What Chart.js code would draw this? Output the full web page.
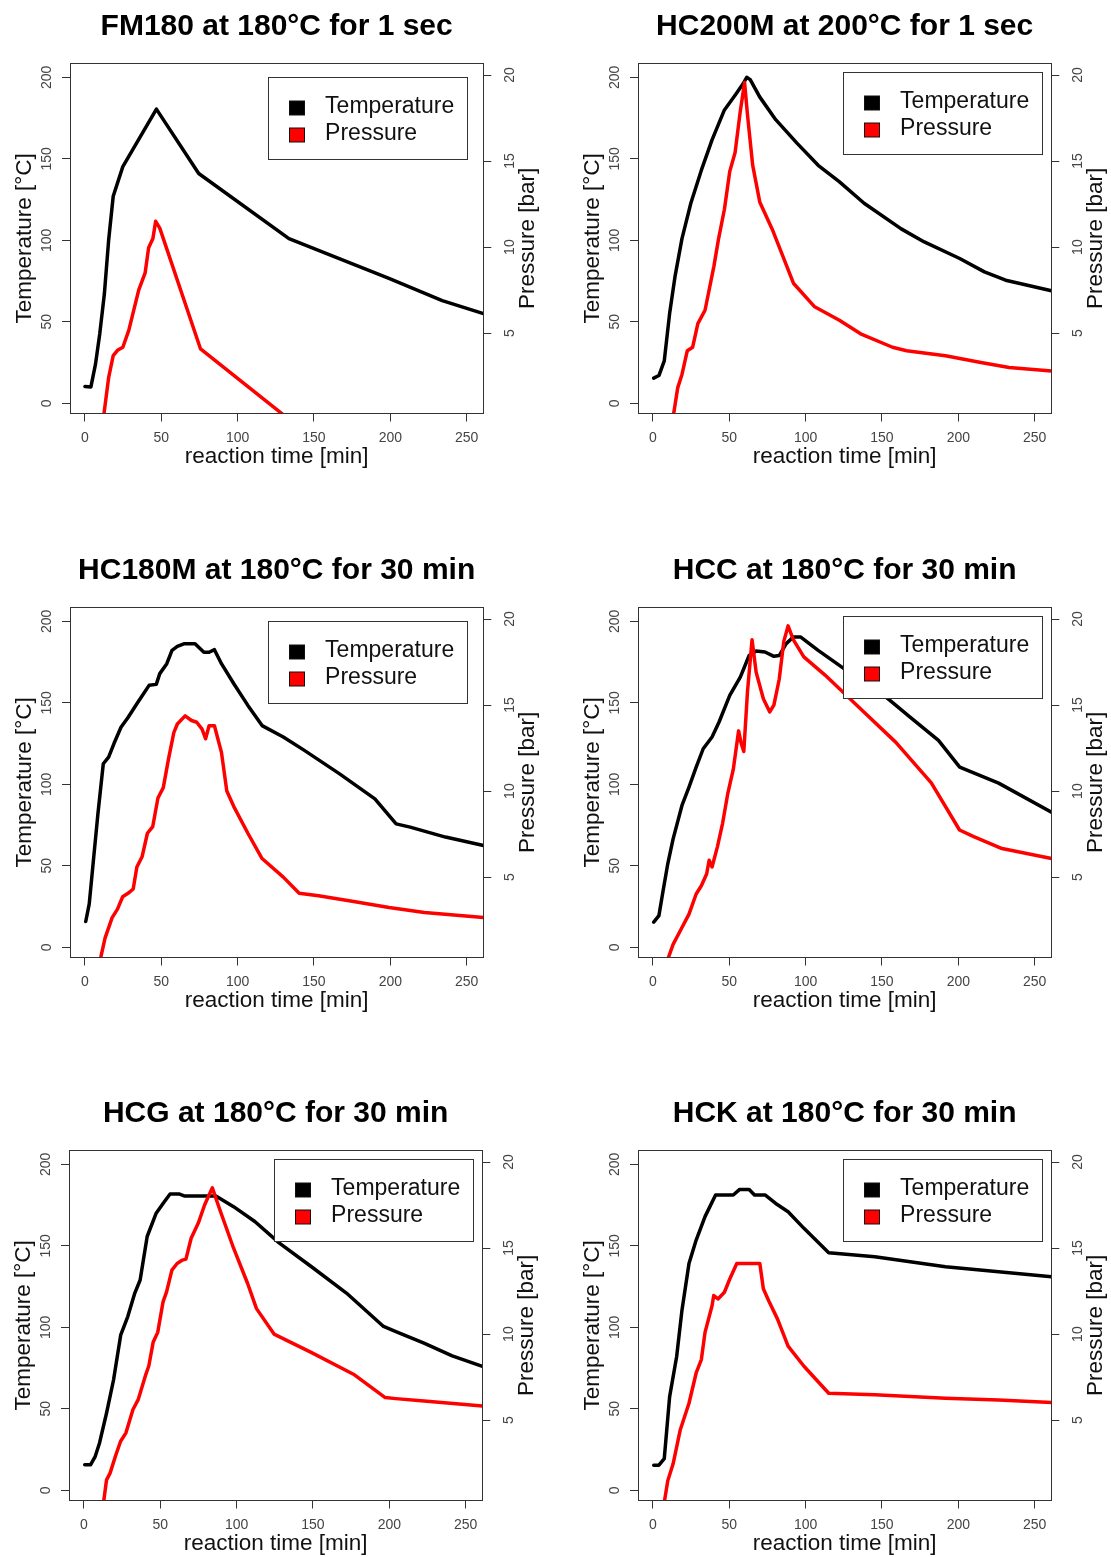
<!DOCTYPE html>
<html lang="en">
<head>
<meta charset="utf-8">
<title>Temperature and pressure profiles</title>
<script src="https://cdn.jsdelivr.net/npm/chart.js@4.4.1/dist/chart.umd.min.js"></script>
<style>
  html, body { margin: 0; padding: 0; background: #fff; }
  body { width: 1111px; height: 1557px; position: relative; overflow: hidden; }
  .panel { position: absolute; width: 540px; height: 480px; }
</style>
</head>
<body>
<script>
// Fuente base para todos los textos
const FUENTE = '"Liberation Sans", Arial, Helvetica, sans-serif';
Chart.defaults.font.family = FUENTE;

// Marcas de los ejes
const xTicks = [0, 50, 100, 150, 200, 250];
const tempTicks = [0, 50, 100, 150, 200];
const presTicks = [5, 10, 15, 20];

// Nombres de las series (leyenda)
const seriesLabels = ['Temperature', 'Pressure'];

// FM180 at 180°C for 1 sec
const fm180TimeT = [0, 3.9, 6.9, 9.7, 12.7, 15.5, 18.5, 24.8, 46.8, 74.5, 133.6, 199.5, 234, 261];
const fm180Temp = [10.3, 10, 24, 42.7, 67, 100, 127, 145.2, 180.5, 141, 101, 76.5, 63, 55];
const fm180TimeP = [12, 15.5, 18.5, 21.3, 24.8, 28.7, 35.2, 39.4, 41.7, 44.5, 46.3, 49, 75.7, 130, 133];
const fm180Pres = [0, 2.41, 3.69, 4.0, 4.18, 5.16, 7.5, 8.5, 9.96, 10.5, 11.5, 11.1, 4.08, 0.25, 0.04];

// HC200M at 200°C for 1 sec
const hc200mTimeT = [0.5, 3.9, 7.4, 10.9, 14.4, 19, 24.8, 31.7, 38.7, 46.8, 53.8, 59, 61.4, 63.7, 69.9, 80.4, 94.3, 108.2, 122, 138.3, 162.6, 177.7, 200.9, 217.1, 231, 261];
const hc200mTemp = [15.4, 17, 26, 55, 77.5, 101, 122.7, 143, 161.6, 180, 189, 196, 200, 198.6, 188, 174, 159.6, 146, 136, 122.7, 107, 99, 88.8, 80.6, 75.5, 69];
const hc200mTimeP = [13, 16.2, 19, 22.5, 26, 29.4, 34.1, 39.9, 42.9, 46.8, 50.3, 53.8, 57.2, 60, 61.9, 65.3, 70, 78.1, 92, 105.9, 122.1, 136, 156.9, 166.1, 191.6, 214.8, 233.3, 261];
const hc200mPres = [0, 1.82, 2.6, 3.98, 4.18, 5.55, 6.33, 8.88, 10.45, 12.2, 14.4, 15.5, 17.9, 19.57, 17.7, 14.76, 12.6, 11.04, 7.9, 6.53, 5.75, 4.96, 4.18, 3.98, 3.69, 3.29, 3.0, 2.8];

// HC180M at 180°C for 30 min
const hc180mTimeT = [0.5, 2.8, 5.5, 8.5, 12, 15.5, 19, 23.6, 28.2, 34, 42, 46.7, 49, 53.6, 57, 60.5, 65.2, 72.1, 77.9, 81.3, 84.8, 89.4, 97.5, 106.7, 116, 129.9, 143.7, 166.8, 189.9, 203.8, 213, 236.1, 261];
const hc180mTemp = [15.8, 26.6, 53, 82, 112.6, 116.7, 125, 135, 141, 149.4, 160.7, 161.3, 167.9, 174, 182.2, 184.6, 186.3, 186.3, 181, 181, 182.6, 174, 161.7, 148.4, 136, 129, 120.8, 106.4, 91, 75.7, 73.7, 67.6, 62.4];
const hc180mTimeP = [9.5, 13.2, 17.8, 21.3, 24.7, 28.2, 31.6, 34, 37.4, 40.9, 44.4, 47.8, 51.3, 54.7, 58.2, 60.5, 65.6, 69.8, 73.2, 76.7, 79, 81.3, 84.8, 89.4, 92.9, 97.5, 106.7, 116, 129.9, 140.3, 153, 176, 199.2, 222.3, 261];
const hc180mPres = [0, 1.47, 2.65, 3.14, 3.86, 4.06, 4.31, 5.59, 6.18, 7.55, 7.94, 9.6, 10.2, 11.86, 13.4, 13.9, 14.37, 14.1, 14.0, 13.6, 13.04, 13.8, 13.8, 12.25, 10.0, 9.1, 7.55, 6.08, 5.0, 4.06, 3.92, 3.59, 3.24, 2.94, 2.65];

// HCC at 180°C for 30 min
const hccTimeT = [0.5, 3.9, 6.3, 9.7, 13.2, 19, 23.6, 28.3, 32.9, 38.7, 43.3, 50.3, 57.2, 63, 67.6, 73.4, 79.2, 82.7, 87.3, 91.9, 96.6, 108.2, 122.1, 136, 149.9, 168.4, 187, 200.9, 226.4, 261];
const hccTemp = [15.4, 19.4, 32.8, 51.2, 66.5, 87, 98.3, 110.5, 121.8, 129, 138.2, 154.5, 165.8, 179, 181.8, 181.2, 178.5, 179, 186.3, 190.4, 190.4, 182.2, 173, 163.8, 155.6, 141.2, 126.9, 110.5, 100.7, 82.9];
const hccTimeP = [8.8, 13.2, 17.8, 23.6, 28.3, 31.7, 35.2, 36.8, 38.7, 42.2, 45.6, 49.1, 52.6, 56.1, 57.7, 59.5, 61.9, 64.9, 67.6, 72.3, 76.5, 79.2, 82.7, 85.7, 88.5, 91.9, 98.8, 112.7, 135.9, 159.1, 182.3, 200.8, 210.1, 228.6, 261];
const hccPres = [0, 1.09, 1.87, 2.85, 4.02, 4.5, 5.2, 5.98, 5.59, 6.76, 8.13, 9.9, 11.26, 13.5, 12.8, 12.3, 15.76, 18.8, 16.9, 15.37, 14.6, 15.0, 16.5, 18.7, 19.6, 18.8, 17.8, 16.74, 14.78, 12.83, 10.48, 7.74, 7.35, 6.66, 6.08];

// HCG at 180°C for 30 min
const hcgTimeT = [0.5, 4.4, 7.4, 10.2, 14.8, 19.4, 24.1, 28.7, 33.3, 36.8, 41.4, 47.3, 51.8, 56.4, 62.2, 65.6, 86.4, 98, 111.9, 128, 148.8, 171.9, 196.2, 204.3, 222.7, 241.2, 261];
const hcgTemp = [15.7, 15.7, 20.8, 29, 47.4, 67.8, 95.4, 106.6, 121, 129, 155.7, 170, 176, 181.8, 181.8, 180.6, 180.6, 174, 164.9, 151.6, 137.3, 121, 100.5, 97.4, 90.3, 82.5, 76];
const hcgTimeP = [12.5, 14.8, 17.1, 20.6, 24.0, 27.5, 32.1, 35.6, 40.2, 42.5, 45.3, 48.3, 51.8, 54.1, 57.6, 61, 64.5, 66.8, 70.2, 74.9, 79, 84.1, 88.7, 98, 107.2, 113, 124.5, 148.8, 176.5, 197.3, 204.3, 222.7, 261];
const hcgPres = [0, 1.53, 1.92, 2.9, 3.77, 4.26, 5.62, 6.21, 7.57, 8.16, 9.52, 10.1, 11.87, 12.45, 13.72, 14.1, 14.3, 14.36, 15.57, 16.45, 17.5, 18.5, 17.3, 14.99, 12.94, 11.48, 10.0, 8.94, 7.67, 6.31, 6.25, 6.11, 5.82];

// HCK at 180°C for 30 min
const hckTimeT = [0.5, 3.9, 7.4, 10.9, 15.5, 19, 23.6, 28.3, 34.1, 41, 52.6, 56.8, 63, 66.5, 73.4, 80.4, 88.5, 98.9, 115.1, 145.3, 191.6, 226.4, 261];
const hckTemp = [15.4, 15.4, 19.4, 57.3, 81.9, 110.5, 139.2, 153.5, 167.9, 181.2, 181.2, 184.6, 184.6, 181.2, 181.2, 176, 170.9, 160.7, 145.8, 143.3, 137.2, 134.1, 131];
const hckTimeP = [7, 9.7, 13.2, 17.8, 23.6, 28.3, 31.7, 34.1, 38.7, 39.8, 42.6, 46.8, 50.3, 54.9, 70, 72.3, 75.8, 81.6, 88.5, 98.9, 115.1, 145.3, 191.6, 226.4, 261];
const hckPres = [0, 1.48, 2.46, 4.41, 5.98, 7.74, 8.52, 10.1, 11.65, 12.24, 12.04, 12.43, 13.2, 14.1, 14.1, 12.63, 11.94, 10.87, 9.3, 8.13, 6.56, 6.47, 6.27, 6.17, 6.02];

// Paneles: titulo, series y posicion en la pagina
const paneles = [
  { titulo: 'FM180 at 180°C for 1 sec', tT: fm180TimeT, temp: fm180Temp, tP: fm180TimeP, pres: fm180Pres, left: 0, top: 0, ley: { right: 16.3, top: 14 } },
  { titulo: 'HC200M at 200°C for 1 sec', tT: hc200mTimeT, temp: hc200mTemp, tP: hc200mTimeP, pres: hc200mPres, left: 568.3, top: 0, ley: { right: 9, top: 8.4 } },
  { titulo: 'HC180M at 180°C for 30 min', tT: hc180mTimeT, temp: hc180mTemp, tP: hc180mTimeP, pres: hc180mPres, left: 0, top: 543.5, ley: { right: 16.3, top: 14 } },
  { titulo: 'HCC at 180°C for 30 min', tT: hccTimeT, temp: hccTemp, tP: hccTimeP, pres: hccPres, left: 568.3, top: 543.5, ley: { right: 9, top: 8.4 } },
  { titulo: 'HCG at 180°C for 30 min', tT: hcgTimeT, temp: hcgTemp, tP: hcgTimeP, pres: hcgPres, left: -1.5, top: 1087, ley: { right: 9, top: 8.4 } },
  { titulo: 'HCK at 180°C for 30 min', tT: hckTimeT, temp: hckTemp, tP: hckTimeP, pres: hckPres, left: 568.3, top: 1087, ley: { right: 9, top: 8.4 } }
];

// Une tiempos y valores en puntos {x, y}
const puntos = (xs, ys) => xs.map((t, i) => ({ x: t, y: ys[i] }));

// Marco alrededor del area de trazado
const marco = {
  id: 'marco',
  afterDatasetsDraw(chart) {
    const { ctx, chartArea: a } = chart;
    ctx.save();
    ctx.strokeStyle = '#333';
    ctx.lineWidth = 1;
    ctx.strokeRect(Math.round(a.left) + 0.5, Math.round(a.top) + 0.5, Math.round(a.right - a.left), Math.round(a.bottom - a.top));
    ctx.restore();
  }
};

// Leyenda con caja (fondo blanco, borde y cuadrados de color)
const leyendaCaja = {
  id: 'leyendaCaja',
  afterDatasetsDraw(chart, args, opts) {
    const { ctx, chartArea: a } = chart;
    const w = 199, h = 82;
    const x = Math.round(a.right - opts.right - w) + 0.5;
    const y = Math.round(a.top + opts.top) + 0.5;
    ctx.save();
    ctx.fillStyle = '#fff';
    ctx.fillRect(x, y, w, h);
    ctx.strokeStyle = '#333';
    ctx.lineWidth = 1;
    ctx.strokeRect(x, y, w, h);
    ctx.font = '23px ' + FUENTE;
    ctx.textBaseline = 'middle';
    chart.data.datasets.forEach((ds, i) => {
      const cy = y + 30.5 + i * 27;
      ctx.fillStyle = ds.borderColor;
      ctx.fillRect(x + 21, cy - 7, 15, 14);
      ctx.strokeStyle = '#111';
      ctx.strokeRect(x + 21, cy - 7, 15, 14);
      ctx.fillStyle = '#111';
      ctx.fillText(ds.label, x + 56.6, cy - 1.5);
    });
    ctx.restore();
  }
};

// Titulo del eje derecho, leido de abajo hacia arriba
const tituloDerecho = {
  id: 'tituloDerecho',
  afterDraw(chart, args, opts) {
    const { ctx, chartArea: a } = chart;
    ctx.save();
    ctx.translate(a.right + 44.5, (a.top + a.bottom) / 2);
    ctx.rotate(-Math.PI / 2);
    ctx.font = '22.5px ' + FUENTE;
    ctx.fillStyle = '#111';
    ctx.textAlign = 'center';
    ctx.textBaseline = 'middle';
    ctx.fillText(opts.text, 0, 0);
    ctx.restore();
  }
};

// Estilo comun de las marcas de eje
const marcas = { display: true, drawOnChartArea: false, drawTicks: true, tickLength: 8, color: '#333', lineWidth: 1 };

paneles.forEach((p, n) => {
  const div = document.createElement('div');
  div.className = 'panel';
  div.style.left = p.left + 'px';
  div.style.top = p.top + 'px';
  const canvas = document.createElement('canvas');
  canvas.width = 540;
  canvas.height = 480;
  canvas.id = 'grafico' + n;
  div.appendChild(canvas);
  document.body.appendChild(div);

  new Chart(canvas, {
    type: 'line',
    data: {
      datasets: [
        { label: seriesLabels[0], data: puntos(p.tT, p.temp), yAxisID: 'y', borderColor: '#000', backgroundColor: '#000', order: 1 },
        { label: seriesLabels[1], data: puntos(p.tP, p.pres), yAxisID: 'y1', borderColor: '#f00', backgroundColor: '#f00', order: 0 }
      ]
    },
    options: {
      responsive: false,
      animation: false,
      events: [],
      elements: {
        point: { radius: 0 },
        line: { borderWidth: 3.5, tension: 0, borderJoinStyle: 'round', borderCapStyle: 'round', fill: false }
      },
      layout: { padding: 0 },
      plugins: {
        legend: { display: false },
        tooltip: { enabled: false },
        title: {
          display: true, text: p.titulo, fullSize: false, color: '#000',
          font: { size: 30, weight: 'bold', lineHeight: 1.2 },
          padding: { top: 8.5, bottom: 18.8 }
        },
        leyendaCaja: p.ley,
        tituloDerecho: { text: 'Pressure [bar]' }
      },
      scales: {
        x: {
          type: 'linear', min: -9.8, max: 260.9, bounds: 'data',
          afterBuildTicks: s => { s.ticks = xTicks.map(v => ({ value: v })); },
          afterFit: s => { s.height = 66.5; },
          ticks: { autoSkip: false, maxRotation: 0, padding: 8.4, color: '#444', font: { size: 14 } },
          grid: marcas,
          border: { display: false },
          title: { display: true, text: 'reaction time [min]', color: '#111', font: { size: 22.5 }, padding: { top: 0, bottom: 9.5 } }
        },
        y: {
          type: 'linear', position: 'left', min: -6.3, max: 208.6, bounds: 'data',
          afterBuildTicks: s => { s.ticks = tempTicks.map(v => ({ value: v })); },
          afterFit: s => { s.width = 70; },
          ticks: { autoSkip: false, minRotation: 90, maxRotation: 90, crossAlign: 'center', padding: 3.6, color: '#444', font: { size: 14 } },
          grid: marcas,
          border: { display: false },
          title: { display: true, text: 'Temperature [°C]', color: '#111', font: { size: 22.5 }, padding: { top: 11, bottom: 0 } }
        },
        y1: {
          type: 'linear', position: 'right', min: 0.33, max: 20.68, bounds: 'data',
          afterBuildTicks: s => { s.ticks = presTicks.map(v => ({ value: v })); },
          afterFit: s => { s.width = 56.7; },
          ticks: { autoSkip: false, minRotation: 90, maxRotation: 90, crossAlign: 'center', padding: 10.9, color: '#444', font: { size: 14 } },
          grid: marcas,
          border: { display: false }
        }
      }
    },
    plugins: [marco, leyendaCaja, tituloDerecho]
  });
});
</script>
</body>
</html>
